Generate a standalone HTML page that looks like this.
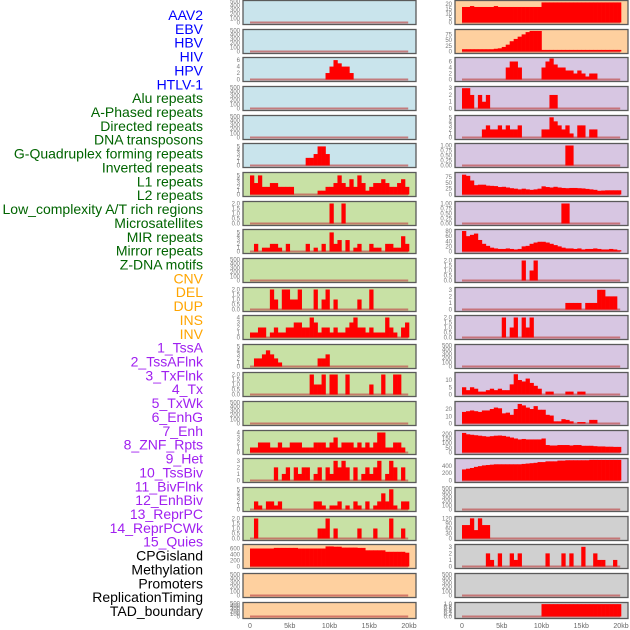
<!DOCTYPE html>
<html><head><meta charset="utf-8"><style>
html,body{margin:0;padding:0;background:#fff;width:630px;height:630px;overflow:hidden}
svg{display:block;font-family:"Liberation Sans",sans-serif}
</style></head><body>
<svg id="c" width="630" height="630" viewBox="0 0 630 630"></svg>
<script>
// ---- labels ----
const labelNames = ["AAV2","EBV","HBV","HIV","HPV","HTLV-1","Alu repeats","A-Phased repeats","Directed repeats","DNA transposons","G-Quadruplex forming repeats","Inverted repeats","L1 repeats","L2 repeats","Low_complexity A/T rich regions","Microsatellites","MIR repeats","Mirror repeats","Z-DNA motifs","CNV","DEL","DUP","INS","INV","1_TssA","2_TssAFlnk","3_TxFlnk","4_Tx","5_TxWk","6_EnhG","7_Enh","8_ZNF_Rpts","9_Het","10_TssBiv","11_BivFlnk","12_EnhBiv","13_ReprPC","14_ReprPCWk","15_Quies","CPGisland","Methylation","Promoters","ReplicationTiming","TAD_boundary"];
const labelGroups = [0,0,0,0,0,0,1,1,1,1,1,1,1,1,1,1,1,1,1,2,2,2,2,2,3,3,3,3,3,3,3,3,3,3,3,3,3,3,3,4,4,4,4,4];
const groupColors = ["#0000ff","#006400","#ffa500","#a020f0","#000000"];

// ---- panel backgrounds ----
const leftBg  = ["b","b","b","b","b","b","g","g","g","g","g","g","g","g","g","g","g","g","g","o","o","o"];
const rightBg = ["o","o","p","p","p","p","p","p","p","p","p","p","p","p","p","p","p","x","x","x","x","x"];
const bgColors = {b:"#c9e4ec",g:"#c8e1a5",o:"#fed09f",p:"#d7c6e2",x:"#d0d0d0"};

// ---- y-axis max & ticks per panel ----
const E = [0,100,200,300,400,500];
const leftMax = [500,500,6.5,500,500,5.5,5.5,2.1,5.5,500,2.1,4.2,5.2,2.1,500,4.2,3.2,5.2,2.1,700,500,500];
const leftTicks = [E,E,[0,2,4,6],E,E,[0,1,2,3,4,5],[0,1,2,3,4,5],[0,0.5,1,1.5,2],[0,1,2,3,4,5],E,[0,0.5,1,1.5,2],[0,1,2,3,4],[0,1,2,3,4,5],[0,0.5,1,1.5,2],E,[0,1,2,3,4],[0,1,2,3],[0,1,2,3,4,5],[0,0.5,1,1.5,2],[0,200,400,600],E,E];
const rightMax = [23,92,7,3.1,5.2,1.05,90,1.05,82,2.1,3.2,2.1,500,14.5,29,225,570,500,125,3.2,500,1.05];
const rightTicks = [[0,5,10,15,20],[0,25,50,75],[0,2,4,6],[0,1,2,3],[0,1,2,3,4,5],[0,0.25,0.5,0.75,1],[0,25,50,75],[0,0.25,0.5,0.75,1],[0,20,40,60,80],[0,0.5,1,1.5,2],[0,1,2,3],[0,0.5,1,1.5,2],E,[0,5,10],[0,10,20],[0,50,100,150,200],[0,200,400],E,[0,30,60,90,120],[0,1,2,3],E,[0,0.2,0.4,0.6,0.8,1]];

// ---- series values (40 bins of 0.5kb each) ----
const Z = [0,0,0,0,0,0,0,0,0,0,0,0,0,0,0,0,0,0,0,0,0,0,0,0,0,0,0,0,0,0,0,0,0,0,0,0,0,0,0,0];
const L2  = [0,0,0,0,0,0,0,0,0,0,0,0,0,0,0,0,0,0,0,2,4,6,5,4,4,2,0,0,0,0,0,0,0,0,0,0,0,0,0,0];
const L5  = [0,0,0,0,0,0,0,0,0,0,0,0,0,0,2,2,3,5,5,3,0,0,0,0,0,0,0,0,0,0,0,0,0,0,0,0,0,0,0,0];
const L6  = [5,3,5,2,2,3,3,2,2,2,2,0,0,0,0,0,0,1,1,2,2,3,5,3,2,4,2,5,3,1,2,3,3,4,3,2,2,3,4,2];
const L7  = [0,0,0,0,0,0,0,0,0,0,0,0,0,0,0,0,0,0,0,0,2,0,0,2,0,0,0,0,0,0,0,0,0,0,0,0,0,0,0,0];
const L8  = [0,2,0,1,1,2,2,1,0,2,0,0,0,0,2,0,1,0,2,0,5,2,3,0,3,0,1,2,0,0,2,1,1,0,2,2,1,1,4,2];
const L10 = [0,0,0,0,0,2,1,0,2,2,1,1,2,0,0,0,2,0,1,2,0,1,0,0,0,0,0,1,0,0,2,0,0,0,0,0,0,0,0,0];
const L11 = [1,1,2,2,0,1,2,1,1,2,2,3,3,2,2,4,3,1,2,2,1,2,1,1,2,3,4,2,2,1,2,1,1,1,4,2,1,0,2,3];
const L12 = [0,2,2,3,4,3,2,1,0,0,0,0,0,0,0,0,0,2,2,3,0,0,0,0,0,0,0,0,0,0,0,0,0,0,0,0,0,0,0,0];
const L13 = [0,0,0,0,0,0,0,0,0,0,0,0,0,0,0,2,1,1,2,0,2,2,0,0,2,0,0,0,0,0,1,0,0,2,0,0,2,2,0,0];
const L15 = [1,1,2,2,2,1,1,2,1,1,2,2,2,1,1,1,2,2,2,1,2,3,1,2,2,2,1,2,1,2,1,2,4,4,1,1,2,2,1,0];
const L16 = [0,0,0,0,0,0,2,0,1,2,0,2,1,2,2,0,1,2,0,2,1,3,2,3,2,0,2,0,1,2,1,2,3,0,1,3,2,0,2,0];
const L17 = [0,2,1,0,2,2,1,2,0,0,0,0,0,0,0,0,2,2,1,0,1,1,2,0,1,0,2,1,0,2,0,1,2,4,2,5,1,0,2,2];
const L18 = [0,2,0,0,0,0,0,0,0,0,0,0,0,0,0,0,0,1,1,2,0,1,0,0,0,0,0,1,0,0,0,1,0,0,0,2,0,0,1,0];
const L19 = [600,600,600,600,600,600,620,620,620,620,620,620,600,600,600,600,600,600,600,670,670,660,660,630,630,630,630,620,620,540,540,540,540,540,490,490,490,490,490,460];
const R0  = [17,17,18,17,17,17,17,17,18,17,17,17,17,17,17,17,17,17,17,17,22,22,22,22,22,22,22,22,22,22,22,22,22,22,22,22,22,22,22,22];
const R1  = [10,10,10,10,10,10,10,10,12,14,20,30,45,55,65,75,85,90,90,90,7,7,7,7,7,7,7,7,7,7,7,7,7,7,7,7,7,7,7,7];
const R2  = [0,0,0,0,0,0,0,0,0,0,0,4,6,6,4,0,0,0,0,0,4,6,7,5,4,4,3,3,2,3,2,1,2,2,0,0,0,0,0,0];
const R3  = [3,3,2,0,2,1,2,0,0,0,0,0,0,0,0,0,0,0,0,0,0,0,2,2,0,0,0,0,0,0,0,0,0,0,0,0,0,0,0,0];
const R4  = [0,0,0,0,0,2,3,2,2,3,2,3,2,2,3,0,0,0,0,0,2,2,5,4,3,2,3,1,0,3,3,0,2,2,0,0,0,0,0,0];
const R5  = [0,0,0,0,0,0,0,0,0,0,0,0,0,0,0,0,0,0,0,0,0,0,0,0,0,0,1,1,0,0,0,0,0,0,0,0,0,0,0,0];
const R6  = [85,80,60,40,42,42,38,37,36,32,33,30,27,25,22,25,22,20,22,25,35,32,30,33,30,28,27,28,28,27,26,24,22,20,16,17,18,18,18,18];
const R7  = [0,0,0,0,0,0,0,0,0,0,0,0,0,0,0,0,0,0,0,0,0,0,0,0,0,1,1,0,0,0,0,0,0,0,0,0,0,0,0,0];
const R8  = [80,60,65,70,45,30,22,15,12,10,10,12,10,8,10,20,22,30,35,38,38,35,30,25,20,15,12,12,10,12,8,10,10,12,10,8,8,10,8,5];
const R9  = [0,0,0,0,0,0,0,0,0,0,0,0,0,0,0,2,0,1,2,0,0,0,0,0,0,0,0,0,0,0,0,0,0,0,0,0,0,0,0,0];
const R10 = [0,0,0,0,0,0,0,0,0,0,0,0,0,0,0,0,0,0,0,0,0,0,0,0,0,0,1,1,1,1,0,1,1,1,3,3,2,2,2,0];
const R11 = [0,0,0,0,0,0,0,0,0,0,2,0,1,2,0,2,1,2,0,0,0,0,0,0,0,0,0,0,0,0,0,0,0,0,0,0,0,0,0,0];
const R13 = [5,3,5,4,2,2,3,4,3,4,3,3,7,14,10,9,11,8,6,4,0,2,2,0,0,0,2,2,0,2,2,0,0,0,0,0,0,0,0,0];
const R14 = [16,17,18,17,16,18,18,20,22,21,14,15,12,20,27,25,22,20,24,19,19,12,11,3,3,6,5,3,0,2,2,0,5,5,0,0,0,0,0,0];
const R15 = [210,195,190,185,180,175,170,175,180,182,178,170,160,150,140,145,140,140,140,140,150,80,75,75,80,80,80,75,80,80,72,72,72,68,65,65,62,62,60,60];
const R16 = [300,320,340,370,390,410,420,430,440,440,440,440,440,440,440,450,460,470,480,500,500,520,520,520,540,540,550,550,550,550,550,550,560,560,560,560,560,560,560,560];
const R18 = [80,80,120,50,120,80,80,0,0,0,0,0,0,0,0,0,0,0,0,0,0,0,0,0,0,0,0,0,0,0,0,0,0,0,0,0,0,0,0,0];
const R19 = [0,0,0,0,0,0,2,1,0,2,0,0,2,1,2,0,0,0,0,0,0,2,0,0,0,2,0,2,0,0,3,0,0,2,1,1,0,0,1,0];
const R21 = [0,0,0,0,0,0,0,0,0,0,0,0,0,0,0,0,0,0,0,0,1,1,1,1,1,1,1,1,1,1,1,1,1,1,1,1,1,1,1,1];
const leftSeries  = [Z,Z,L2,Z,Z,L5,L6,L7,L8,Z,L10,L11,L12,L13,Z,L15,L16,L17,L18,L19,Z,Z];
const rightSeries = [R0,R1,R2,R3,R4,R5,R6,R7,R8,R9,R10,R11,Z,R13,R14,R15,R16,Z,R18,R19,Z,R21];
const xTickLabels = ["0","5kb","10kb","15kb","20kb"];
const xTickValues = [0,5,10,15,20];
const binKb = 0.5;

const NS = "http://www.w3.org/2000/svg";
const svg = document.getElementById("c");
function mk(tag, attrs, parent){ const e=document.createElementNS(NS,tag); for(const k in attrs) e.setAttribute(k,attrs[k]); (parent||svg).appendChild(e); return e; }

// labels
const labStep = (611-15)/(labelNames.length-1);
labelNames.forEach((t,i)=>{
  const el = mk("text",{x:203,y:15+i*labStep+5,"text-anchor":"end","font-size":14,fill:groupColors[labelGroups[i]]});
  el.textContent = t;
  
  
});

function fmt(t, ticks){
  let d = 0;
  ticks.forEach(v=>{ const s=String(v); if(s.includes('.')) d=Math.max(d,s.split('.')[1].length); });
  return t.toFixed(d);
}

const rowStep = 28.65;
function xScale(x0, kb){ return x0 + 7 + kb*7.95; }
function drawPanel(col, r, x0, bg, ymax, ticks, vals){
  const top = Math.round(r*rowStep)+0.5;
  const h = r===21 ? 16 : 24;
  const g = mk("g",{});
  
  
  mk("rect",{x:x0,y:top,width:173,height:h,fill:bgColors[bg],stroke:"#5a5a5a","stroke-width":1.3},g);
  const base = top + h - 2, ph = h - 3;
  const yS = v => base - v/ymax*ph;
  ticks.forEach(t=>{
    const tx = mk("text",{x:x0-3,y:yS(t)+2,"text-anchor":"end","font-size":6,fill:"#777"},g);
    tx.textContent = fmt(t, ticks);
    
    
  });
  mk("line",{x1:xScale(x0,0),x2:xScale(x0,19.9),y1:base,y2:base,stroke:"#c05050","stroke-width":2,"stroke-opacity":0.7},g);
  vals.forEach((v,i)=>{
    if(v<=0) return;
    const xa = xScale(x0,i*binKb), xb = xScale(x0,(i+1)*binKb);
    const b = mk("rect",{x:xa,y:yS(v),width:xb-xa+0.3,height:base-yS(v),fill:"#ff0000"},g);
    
    
  });
}
for(let r=0;r<22;r++){
  drawPanel("left",r,243,leftBg[r],leftMax[r],leftTicks[r],leftSeries[r]);
  drawPanel("right",r,455,rightBg[r],rightMax[r],rightTicks[r],rightSeries[r]);
}
[243,455].forEach(x0=>{
  xTickValues.forEach((v,i)=>{
    const t = mk("text",{x:xScale(x0,v),y:628,"text-anchor":"middle","font-size":7,fill:"#666"});
    t.textContent = xTickLabels[i];
    
    
  });
});
</script>
</body></html>
